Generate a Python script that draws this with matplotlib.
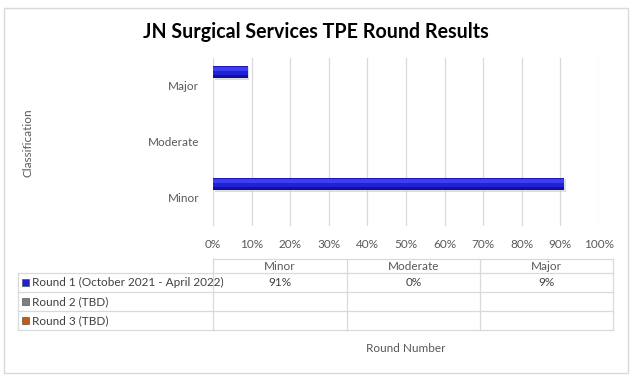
import matplotlib
matplotlib.use("Agg")
import matplotlib.pyplot as plt
from matplotlib.patches import Rectangle
from matplotlib.lines import Line2D
import numpy as np

plt.rcParams['font.family'] = ['Lato', 'DejaVu Sans']

title = "JN Surgical Services TPE Round Results"
categories = ["Minor", "Moderate", "Major"]
series_names = ["Round 1 (October 2021 - April 2022)", "Round 2 (TBD)", "Round 3 (TBD)"]
series_values = [
    [91, 0, 9],
    [None, None, None],
    [None, None, None],
]
series_colors = ["#2121d8", "#7f7f7f", "#c55a11"]
xticks = [0, 10, 20, 30, 40, 50, 60, 70, 80, 90, 100]
xlabel = "Round Number"
ylabel = "Classification"

W, H = 637, 386
fig = plt.figure(figsize=(W / 100, H / 100), dpi=100)

def fx(x):
    return x / W

def fy(y):
    return 1 - y / H

# outer frame
fig.patches.append(Rectangle((fx(4), fy(373)), fx(628) - fx(4), fy(8) - fy(373),
                             transform=fig.transFigure, fill=False,
                             edgecolor="#d9d9d9", linewidth=1))

fig.text(fx(316), fy(32), title, ha="center", va="center",
         fontsize=14.1, fontweight="bold", color="#000000")

ax = fig.add_axes([fx(213), fy(226), fx(599) - fx(213), fy(58) - fy(226)])
ax.set_xlim(0, 100)
ax.set_ylim(-0.5, 2.5)
ax.set_xticks(xticks)
ax.set_xticklabels([f"{t}%" for t in xticks])
ax.set_yticks(range(len(categories)))
ax.set_yticklabels(categories)
ax.grid(axis="x", color="#d9d9d9", linewidth=0.9)
ax.set_axisbelow(True)
for s in ax.spines.values():
    s.set_visible(False)
ax.tick_params(axis="both", length=0, colors="#595959", labelsize=8.5)
ax.tick_params(axis="x", pad=9)
ax.tick_params(axis="y", pad=10)

offsets = [0.255, 0.0, -0.255]
bar_h = 0.22
y = np.arange(len(categories))
for i, vals in enumerate(series_values):
    v = np.array([np.nan if a is None else a for a in vals], dtype=float)
    if np.all(np.isnan(v)):
        continue
    yc = y + offsets[i]
    # soft shadow
    ax.barh(yc - 0.03, v, height=bar_h, left=0.4, color="#c8c8c8",
            linewidth=0, zorder=2, alpha=0.6)
    ax.barh(yc, v, height=bar_h, color=series_colors[i], linewidth=0, zorder=3)
    # darker lower rim and lighter upper band for a 3D look
    ax.barh(yc - bar_h * 0.4, v, height=bar_h * 0.2, color="#10109a",
            linewidth=0, zorder=4)
    ax.barh(yc + bar_h * 0.22, v, height=bar_h * 0.3, color="#3d3df4",
            linewidth=0, zorder=4)
    ax.barh(yc + bar_h * 0.44, v, height=bar_h * 0.12, color="#1a1ab8",
            linewidth=0, zorder=4)

fig.text(fx(28), fy(143), ylabel, rotation=90, ha="center", va="center",
         fontsize=8.5, color="#595959")

# data table
lc = "#d9d9d9"
col_x = [18, 213, 347, 480, 613]
row_y = [259, 273, 292, 311, 330]

def hline(x0, x1, yy):
    fig.lines.append(Line2D([fx(x0), fx(x1)], [fy(yy), fy(yy)], transform=fig.transFigure,
                            color=lc, linewidth=0.9))

def vline(xx, y0, y1):
    fig.lines.append(Line2D([fx(xx), fx(xx)], [fy(y0), fy(y1)], transform=fig.transFigure,
                            color=lc, linewidth=0.9))

hline(213, 613, row_y[0])
for yy in row_y[1:]:
    hline(18, 613, yy)
vline(18, row_y[1], row_y[-1])
for xx in col_x[1:]:
    vline(xx, row_y[0], row_y[-1])

for j, c in enumerate(categories):
    cx = (col_x[j + 1] + col_x[j + 2]) / 2
    fig.text(fx(cx), fy((row_y[0] + row_y[1]) / 2), c, ha="center", va="center",
             fontsize=8.5, color="#595959")

for i, name in enumerate(series_names):
    cy = (row_y[i + 1] + row_y[i + 2]) / 2
    fig.patches.append(Rectangle((fx(22), fy(cy + 3.5)), fx(7), fy(0) - fy(7),
                                 transform=fig.transFigure, facecolor=series_colors[i],
                                 edgecolor="#404040", linewidth=0.4))
    fig.text(fx(32), fy(cy), name, ha="left", va="center", fontsize=8.5, color="#404040")
    for j, v in enumerate(series_values[i]):
        if v is None:
            continue
        cx = (col_x[j + 1] + col_x[j + 2]) / 2
        fig.text(fx(cx), fy(cy), f"{v}%", ha="center", va="center",
                 fontsize=8.5, color="#404040")

fig.text(fx(406), fy(348), xlabel, ha="center", va="center", fontsize=8.5, color="#595959")

fig.savefig("out.png", dpi=100)
